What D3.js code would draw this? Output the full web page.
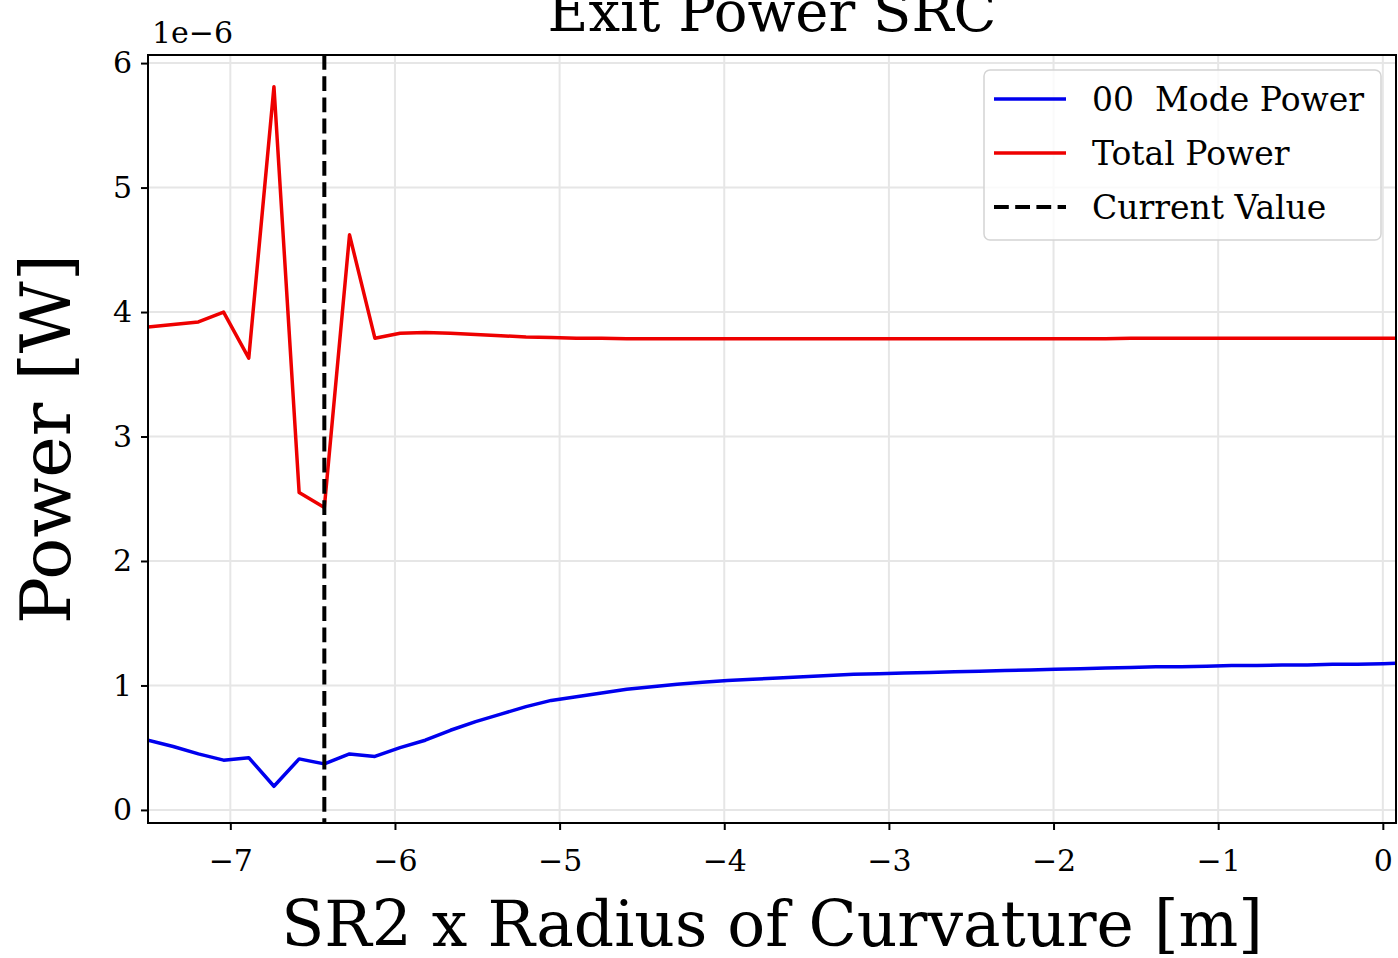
<!DOCTYPE html>
<html>
<head>
<meta charset="utf-8">
<script src="https://cdn.jsdelivr.net/npm/d3@7"></script>
<style>
  body { margin: 0; background: #fff; }
  svg { display: block; font-family: "DejaVu Serif", serif; }
</style>
</head>
<body>
<div id="chart"></div>
<script>
// radius of curvature sweep [m]
const radius = [-7.500, -7.347, -7.194, -7.041, -6.888, -6.735, -6.582, -6.429, -6.276, -6.122,
    -5.969, -5.816, -5.663, -5.510, -5.357, -5.204, -5.051, -4.898, -4.745, -4.592,
    -4.439, -4.286, -4.133, -3.980, -3.827, -3.673, -3.520, -3.367, -3.214, -3.061,
    -2.908, -2.755, -2.602, -2.449, -2.296, -2.143, -1.990, -1.837, -1.684, -1.531,
    -1.378, -1.224, -1.071, -0.918, -0.765, -0.612, -0.459, -0.306, -0.153, 0.000, 0.153];

// powers in units of 1e-6 W
const modePower = [0.56, 0.51, 0.45, 0.40, 0.42, 0.19, 0.41, 0.37, 0.45, 0.43,
    0.50, 0.56, 0.64, 0.71, 0.77, 0.83, 0.88, 0.91, 0.94, 0.97,
    0.99, 1.01, 1.025, 1.04, 1.05, 1.06, 1.07, 1.08, 1.09, 1.095,
    1.10, 1.105, 1.11, 1.115, 1.12, 1.125, 1.13, 1.135, 1.14, 1.145,
    1.15, 1.15, 1.155, 1.16, 1.16, 1.165, 1.165, 1.17, 1.17, 1.175, 1.18];

const totalPower = [3.88, 3.90, 3.92, 4.00, 3.63, 5.81, 2.55, 2.43, 4.62, 3.79,
    3.83, 3.835, 3.83, 3.82, 3.81, 3.80, 3.795, 3.79, 3.79, 3.785,
    3.785, 3.785, 3.785, 3.785, 3.785, 3.785, 3.785, 3.785, 3.785, 3.785,
    3.785, 3.785, 3.785, 3.785, 3.785, 3.785, 3.785, 3.785, 3.785, 3.79,
    3.79, 3.79, 3.79, 3.79, 3.79, 3.79, 3.79, 3.79, 3.79, 3.79, 3.79];

const currentValue = -6.429;

const xTicks = [-7, -6, -5, -4, -3, -2, -1, 0];
const yTicks = [0, 1, 2, 3, 4, 5, 6];

const legendItems = [
    {label: "00  Mode Power", color: "#0000ee", dash: null},
    {label: "Total Power", color: "#ee0000", dash: null},
    {label: "Current Value", color: "#000", dash: "14.8,6.4"}
];

const margin = {top: 55, right: 2, bottom: 135, left: 148},
    width = 1398 - margin.left - margin.right,
    height = 958 - margin.top - margin.bottom;

const svg = d3.select("#chart")
    .append("svg")
    .attr("width", 1398)
    .attr("height", 958);

const g = svg.append("g")
    .attr("transform", `translate(${margin.left},${margin.top})`);

const x = d3.scaleLinear().domain([-7.5, 0.08]).range([0, width]);
const y = d3.scaleLinear().domain([-0.105, 6.065]).range([height, 0]);

g.append("clipPath").attr("id", "clip")
    .append("rect").attr("width", width).attr("height", height);

// grid
g.append("g").selectAll("line")
    .data(xTicks)
    .join("line")
    .attr("x1", d => x(d)).attr("x2", d => x(d))
    .attr("y1", 0).attr("y2", height)
    .attr("stroke", "#e6e6e6").attr("stroke-width", 2);
g.append("g").selectAll("line")
    .data(yTicks)
    .join("line")
    .attr("x1", 0).attr("x2", width)
    .attr("y1", d => y(d)).attr("y2", d => y(d))
    .attr("stroke", "#e6e6e6").attr("stroke-width", 2);

// data lines
const line = d3.line()
    .x((d, i) => x(radius[i]))
    .y(d => y(d));

const plot = g.append("g").attr("clip-path", "url(#clip)");

plot.append("path")
    .datum(modePower)
    .attr("fill", "none")
    .attr("stroke", "#0000ee")
    .attr("stroke-width", 3.5)
    .attr("stroke-linejoin", "round")
    .attr("d", line);

plot.append("path")
    .datum(totalPower)
    .attr("fill", "none")
    .attr("stroke", "#ee0000")
    .attr("stroke-width", 3.5)
    .attr("stroke-linejoin", "round")
    .attr("d", line);

plot.append("line")
    .attr("x1", x(currentValue)).attr("x2", x(currentValue))
    .attr("y1", 0).attr("y2", height)
    .attr("stroke", "#000")
    .attr("stroke-width", 4)
    .style("stroke-dasharray", "14.8,6.4");

// axes
const xAxis = g.append("g")
    .attr("transform", `translate(0,${height})`)
    .call(d3.axisBottom(x).tickValues(xTicks).tickSize(7).tickFormat(d3.format("d")));
xAxis.select(".domain").remove();
xAxis.selectAll(".tick line").attr("stroke-width", 2);
xAxis.selectAll(".tick text")
    .attr("y", 48).attr("dy", null)
    .attr("font-family", "DejaVu Serif")
    .attr("font-size", "30px");

const yAxis = g.append("g")
    .call(d3.axisLeft(y).tickValues(yTicks).tickSize(7).tickPadding(9).tickFormat(d3.format("d")));
yAxis.select(".domain").remove();
yAxis.selectAll(".tick line").attr("stroke-width", 2);
yAxis.selectAll(".tick text")
    .attr("font-family", "DejaVu Serif")
    .attr("font-size", "30px");

// frame
g.append("rect")
    .attr("width", width).attr("height", height)
    .attr("fill", "none").attr("stroke", "#000").attr("stroke-width", 2);

// offset text
g.append("text")
    .attr("x", 4).attr("y", -12)
    .attr("font-size", "30px")
    .text("1e\u22126");

// title
svg.append("text")
    .attr("x", margin.left + width / 2)
    .attr("y", 31)
    .attr("text-anchor", "middle")
    .attr("font-size", "56px")
    .text("Exit Power SRC");

// axis labels
svg.append("text")
    .attr("x", margin.left + width / 2)
    .attr("y", 946)
    .attr("text-anchor", "middle")
    .attr("font-size", "63px")
    .text("SR2 x Radius of Curvature [m]");

svg.append("text")
    .attr("transform", `translate(70,${margin.top + height / 2}) rotate(-90)`)
    .attr("text-anchor", "middle")
    .attr("font-size", "70px")
    .text("Power [W]");

// legend
const legend = g.append("g").attr("transform", `translate(${984 - margin.left},${70 - margin.top})`);
legend.append("rect")
    .attr("width", 397).attr("height", 170)
    .attr("rx", 6)
    .attr("fill", "#fff").attr("fill-opacity", 0.8)
    .attr("stroke", "#d4d4d4").attr("stroke-width", 1.5);

const rows = legend.selectAll(".row")
    .data(legendItems)
    .join("g")
    .attr("class", "row")
    .attr("transform", (d, i) => `translate(0,${29 + i * 54})`);
rows.append("line")
    .attr("x1", 10).attr("x2", 82)
    .attr("stroke", d => d.color)
    .attr("stroke-width", d => d.dash ? 4 : 3.5)
    .style("stroke-dasharray", d => d.dash);
rows.append("text")
    .attr("x", 108).attr("y", 12)
    .attr("font-size", "33px")
    .attr("xml:space", "preserve")
    .style("white-space", "pre")
    .text(d => d.label);
</script>
</body>
</html>
